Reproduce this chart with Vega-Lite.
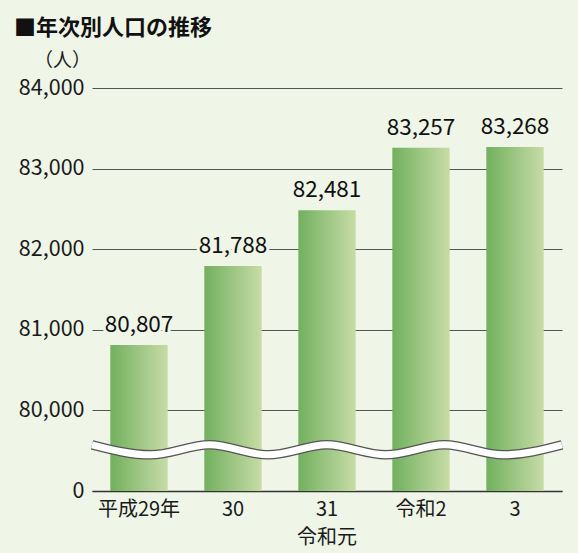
{
  "$schema": "https://vega.github.io/schema/vega-lite/v6.json",
  "width": 470,
  "height": 403,
  "autosize": {"type": "none"},
  "padding": {"left": 92, "top": 88, "right": 16, "bottom": 62},
  "background": "#eff5e7",
  "config": {
    "view": {"stroke": null},
    "font": "Noto Sans CJK JP"
  },
  "title": {
    "text": "■年次別人口の推移",
    "anchor": "start",
    "frame": "group",
    "dx": -78,
    "offset": 11,
    "fontSize": 22,
    "fontWeight": "bold",
    "color": "#111111",
    "font": "Noto Sans CJK JP"
  },
  "datasets": {
    "pop": [
      {"year": "平成29年", "value": 80807},
      {"year": "30", "value": 81788},
      {"year": "31", "value": 82481},
      {"year": "令和2", "value": 83257},
      {"year": "3", "value": 83268}
    ],
    "wave": [
      {"t": 0, "v": 45600},
      {"t": 0.125, "v": 35700},
      {"t": 0.25, "v": 45600},
      {"t": 0.375, "v": 35700},
      {"t": 0.5, "v": 45600},
      {"t": 0.625, "v": 35700},
      {"t": 0.75, "v": 45600},
      {"t": 0.875, "v": 35700},
      {"t": 1, "v": 45600}
    ]
  },
  "layer": [
    {
      "data": {"name": "pop"},
      "encoding": {
        "x": {
          "field": "year",
          "type": "nominal",
          "sort": null,
          "scale": {"paddingInner": 0.39, "paddingOuter": 0.195},
          "axis": {
            "title": null,
            "labelAngle": 0,
            "labelFontSize": 20,
            "labelColor": "#1a1a1a",
            "labelPadding": 8,
            "labelLineHeight": 28,
            "labelExpr": "datum.value == '31' ? ['31', '令和元'] : datum.value",
            "ticks": false,
            "domainColor": "#333333",
            "domainWidth": 1.5
          }
        },
        "y": {
          "field": "value",
          "type": "quantitative",
          "scale": {
            "domain": [0, 80000, 84000],
            "range": [403, 322, 0],
            "nice": false,
            "zero": false
          },
          "axis": {
            "values": [0, 80000, 81000, 82000, 83000, 84000],
            "format": ",d",
            "title": "（人）",
            "titleAngle": 0,
            "titleX": -30,
            "titleY": -28,
            "titleAlign": "center",
            "titleBaseline": "middle",
            "titleFontSize": 19,
            "titleFontWeight": "normal",
            "titleColor": "#1a1a1a",
            "labelFontSize": 21.5,
            "labelColor": "#1a1a1a",
            "labelPadding": 8,
            "ticks": false,
            "domain": false,
            "grid": true,
            "gridColor": "#555555",
            "gridWidth": 1
          }
        }
      },
      "layer": [
        {
          "mark": {
            "type": "bar",
            "color": {
              "gradient": "linear",
              "x1": 0, "y1": 0, "x2": 1, "y2": 0,
              "stops": [
                {"offset": 0, "color": "#72b05f"},
                {"offset": 1, "color": "#c7dca6"}
              ]
            }
          }
        },
        {
          "mark": {"type": "text", "dy": -20, "fontSize": 22.5, "stroke": "#eff5e7", "strokeWidth": 6, "strokeJoin": "round", "fill": "#eff5e7", "baseline": "middle"},
          "encoding": {
            "text": {"field": "value", "type": "quantitative", "format": ",d"}
          }
        },
        {
          "mark": {"type": "text", "dy": -20, "fontSize": 22.5, "fill": "#111111", "baseline": "middle"},
          "encoding": {
            "text": {"field": "value", "type": "quantitative", "format": ",d"}
          }
        }
      ]
    },
    {
      "data": {"name": "wave"},
      "mark": {"type": "line", "interpolate": "monotone", "stroke": "#555555", "strokeWidth": 9.5, "strokeCap": "butt"},
      "encoding": {
        "x": {"field": "t", "type": "quantitative", "scale": {"domain": [0, 1], "nice": false, "zero": false}, "axis": null},
        "y": {"field": "v", "type": "quantitative"}
      }
    },
    {
      "data": {"name": "wave"},
      "mark": {"type": "line", "interpolate": "monotone", "stroke": "#ffffff", "strokeWidth": 7, "strokeCap": "butt"},
      "encoding": {
        "x": {"field": "t", "type": "quantitative", "scale": {"domain": [0, 1], "nice": false, "zero": false}, "axis": null},
        "y": {"field": "v", "type": "quantitative"}
      }
    }
  ],
  "resolve": {"scale": {"x": "independent"}}
}
